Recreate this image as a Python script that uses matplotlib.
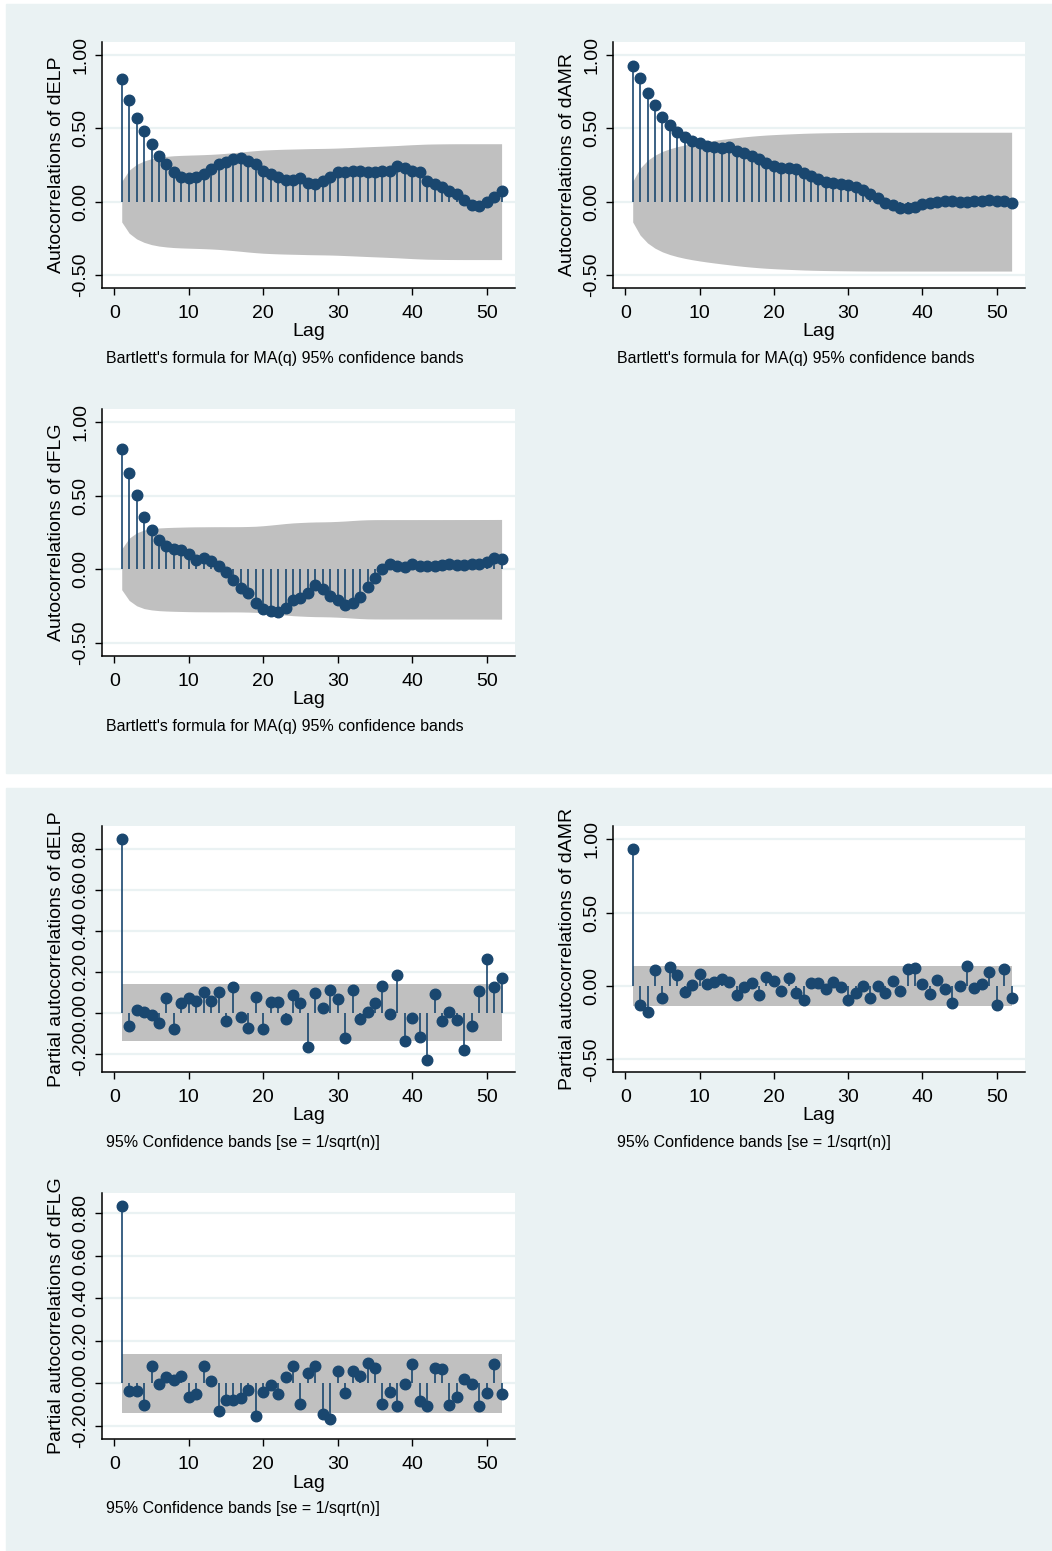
import numpy as np
import matplotlib
matplotlib.use('Agg')
from matplotlib import pyplot as plt
from matplotlib.patches import Rectangle

plt.rcParams['font.family'] = ['Liberation Sans', 'DejaVu Sans']

# ---------------------------------------------------------------
# Correlogram values, lags 1..52
lags = np.arange(1, 53)

acf_dELP = [0.84, 0.69, 0.57, 0.48, 0.39, 0.31, 0.26, 0.20, 0.17, 0.16,
            0.17, 0.19, 0.22, 0.26, 0.27, 0.29, 0.30, 0.28, 0.26, 0.21,
            0.19, 0.17, 0.15, 0.15, 0.16, 0.13, 0.12, 0.14, 0.17, 0.20,
            0.20, 0.21, 0.21, 0.20, 0.20, 0.21, 0.21, 0.24, 0.23, 0.21,
            0.20, 0.14, 0.12, 0.10, 0.07, 0.05, 0.01, -0.02, -0.03, 0.00,
            0.03, 0.07]
acf_dAMR = [0.925, 0.844, 0.744, 0.658, 0.578, 0.522, 0.476, 0.442, 0.413, 0.397,
            0.381, 0.374, 0.363, 0.370, 0.347, 0.329, 0.313, 0.288, 0.261, 0.243,
            0.231, 0.227, 0.220, 0.197, 0.175, 0.154, 0.136, 0.129, 0.120, 0.113,
            0.098, 0.079, 0.052, 0.023, -0.007, -0.023, -0.041, -0.045, -0.034, -0.018,
            -0.011, 0.000, 0.007, 0.007, -0.002, -0.002, 0.002, 0.007, 0.011, 0.007,
            0.005, -0.011]
acf_dFLG = [0.816, 0.657, 0.507, 0.355, 0.270, 0.198, 0.159, 0.139, 0.134, 0.107,
            0.066, 0.075, 0.057, 0.020, -0.020, -0.075, -0.125, -0.161, -0.230, -0.268,
            -0.284, -0.289, -0.261, -0.211, -0.195, -0.159, -0.109, -0.136, -0.184, -0.211,
            -0.243, -0.230, -0.189, -0.120, -0.059, 0.000, 0.034, 0.020, 0.016, 0.034,
            0.023, 0.020, 0.023, 0.030, 0.039, 0.030, 0.030, 0.039, 0.039, 0.050,
            0.075, 0.073]

pacf_dELP = [0.845, -0.062, 0.016, 0.005, -0.008, -0.049, 0.072, -0.078, 0.047, 0.070,
             0.057, 0.102, 0.060, 0.101, -0.042, 0.128, -0.021, -0.076, 0.075, -0.078,
             0.052, 0.052, -0.031, 0.086, 0.047, -0.166, 0.096, 0.024, 0.112, 0.068,
             -0.122, 0.109, -0.031, 0.005, 0.047, 0.132, -0.005, 0.185, -0.137, -0.026,
             -0.119, -0.228, 0.094, -0.042, 0.003, -0.037, -0.180, -0.063, 0.107, 0.263,
             0.124, 0.169]
pacf_dAMR = [0.930, -0.130, -0.175, 0.107, -0.080, 0.130, 0.075, -0.039, 0.009, 0.084,
             0.011, 0.027, 0.045, 0.027, -0.064, -0.009, 0.023, -0.059, 0.059, 0.032,
             -0.036, 0.057, -0.048, -0.093, 0.020, 0.023, -0.018, 0.030, -0.009, -0.098,
             -0.045, 0.002, -0.084, 0.000, -0.045, 0.034, -0.034, 0.116, 0.123, 0.016,
             -0.057, 0.039, -0.020, -0.116, 0.002, 0.136, -0.011, 0.014, 0.098, -0.132,
             0.116, -0.084]
pacf_dFLG = [0.831, -0.036, -0.036, -0.105, 0.083, -0.005, 0.028, 0.016, 0.034, -0.066,
             -0.053, 0.080, 0.011, -0.133, -0.077, -0.077, -0.072, -0.031, -0.156, -0.041,
             -0.008, -0.053, 0.027, 0.083, -0.098, 0.047, 0.083, -0.144, -0.170, 0.059,
             -0.045, 0.059, 0.033, 0.095, 0.072, -0.097, -0.041, -0.108, -0.005, 0.089,
             -0.084, -0.108, 0.073, 0.067, -0.103, -0.063, 0.019, -0.005, -0.108, -0.047,
             0.089, -0.050]

n_obs = 200   # sample size behind the confidence bands

# ---------------------------------------------------------------
# Styling
W, H = 1052, 1551
region_col = '#EAF2F3'
band_col = '#C0C0C0'
navy = '#1A476F'
tick_fs = 14
title_fs = 14
note_fs = 11.5


def fx(x):
    return x / W


def fy(y):
    return 1 - y / H


def make_axes(fig, box, ylim, yticks):
    l, t, r, b = box
    ax = fig.add_axes([fx(l), fy(b), (r - l) / W, (b - t) / H])
    ax.set_facecolor('white')
    ax.set_xlim(-1.65, 53.8)
    ax.set_ylim(*ylim)
    ax.set_xticks([0, 10, 20, 30, 40, 50])
    ax.set_yticks(yticks)
    ax.set_yticklabels(['%.2f' % v for v in yticks], rotation=90, va='center')
    for s in ['top', 'right']:
        ax.spines[s].set_visible(False)
    for s in ['left', 'bottom']:
        ax.spines[s].set_linewidth(1.1)
    ax.tick_params(direction='out', length=5, width=1.0, labelsize=tick_fs)
    ax.tick_params(axis='x', pad=7)
    ax.tick_params(axis='y', pad=4)
    for v in yticks:
        ax.axhline(v, color=region_col, lw=1.6, zorder=0)
    return ax


def add_texts(fig, box, ytitle, note):
    l, t, r, b = box
    fig.text(fx(l - 45), fy((t + b) / 2), ytitle, rotation=90, ha='center',
             va='center', fontsize=title_fs)
    fig.text(fx((l + r) / 2), fy(b + 44), 'Lag', ha='center', va='center',
             fontsize=title_fs)
    fig.text(fx(l + 4), fy(b + 70), note, ha='left', va='center', fontsize=note_fs)


def draw_stems(ax, r):
    ax.vlines(lags, 0, r, color=navy, lw=1.2, zorder=3)
    ax.plot(lags, r, 'o', color=navy, ms=7.6, mec=navy, zorder=4, clip_on=False)


fig = plt.figure(figsize=(W / 100, H / 100), dpi=100)
fig.patch.set_facecolor('white')
fig.add_artist(Rectangle((fx(6), fy(773)), fx(1046), (773 - 4) / H,
                         transform=fig.transFigure, color=region_col, zorder=-5))
fig.add_artist(Rectangle((fx(6), 0), fx(1046), (1551 - 788) / H,
                         transform=fig.transFigure, color=region_col, zorder=-5))

acf_set = [('dELP', acf_dELP, (102, 42, 515, 288)),
           ('dAMR', acf_dAMR, (613, 42, 1025, 288)),
           ('dFLG', acf_dFLG, (102, 409, 515, 656))]

pacf_set = [('dELP', pacf_dELP, (102, 826, 515, 1072), (-0.288, 0.91),
             [-0.2, 0.0, 0.2, 0.4, 0.6, 0.8]),
            ('dAMR', pacf_dAMR, (613, 826, 1025, 1072), (-0.586, 1.089),
             [-0.5, 0.0, 0.5, 1.0]),
            ('dFLG', pacf_dFLG, (102, 1193, 515, 1439), (-0.2625, 0.894),
             [-0.2, 0.0, 0.2, 0.4, 0.6, 0.8])]

# autocorrelations with Bartlett MA(q) bands
for name, r, box in acf_set:
    r = np.array(r)
    ax = make_axes(fig, box, (-0.589, 1.089), [-0.5, 0.0, 0.5, 1.0])
    prev = np.concatenate([[0.0], np.cumsum(r ** 2)[:-1]])
    se = np.sqrt((1 + 2 * prev) / n_obs)
    ax.fill_between(lags, -1.96 * se, 1.96 * se, color=band_col, lw=0, zorder=1)
    draw_stems(ax, r)
    add_texts(fig, box, 'Autocorrelations of ' + name,
              "Bartlett's formula for MA(q) 95% confidence bands")

# partial autocorrelations with 1/sqrt(n) bands
for name, r, box, ylim, yt in pacf_set:
    ax = make_axes(fig, box, ylim, yt)
    ci = 1.96 / np.sqrt(n_obs)
    ax.fill_between(lags, -ci, ci, color=band_col, lw=0, zorder=1)
    draw_stems(ax, np.array(r))
    add_texts(fig, box, 'Partial autocorrelations of ' + name,
              '95% Confidence bands [se = 1/sqrt(n)]')

plt.savefig('out.png', dpi=100, facecolor=fig.get_facecolor())
